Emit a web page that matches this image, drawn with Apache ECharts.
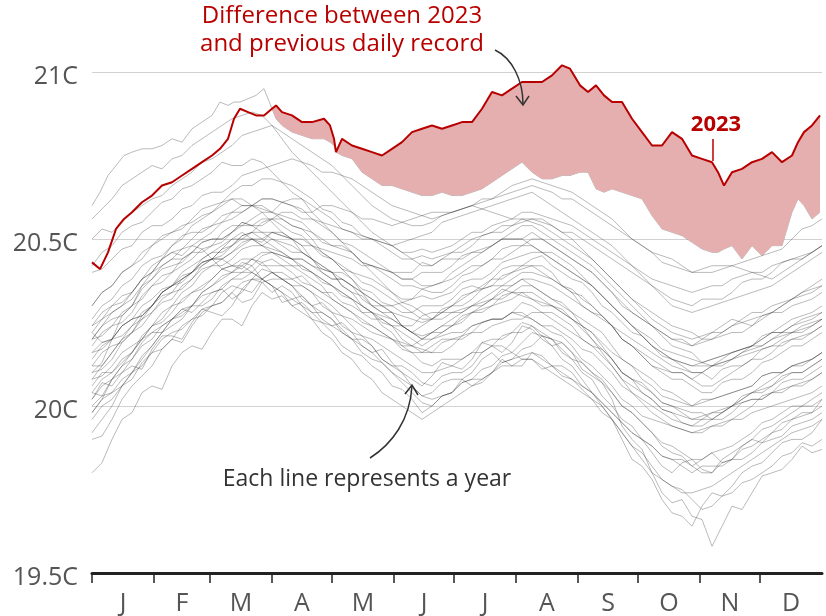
<!DOCTYPE html>
<html><head><meta charset="utf-8">
<script src="https://cdn.jsdelivr.net/npm/echarts@6/dist/echarts.min.js"></script>
<style>html,body{margin:0;padding:0;background:#fff}#c{width:826px;height:616px}</style>
</head><body><div id="c"></div>
<script>
// ---- tick labels / categories ----
const monthLabels = ['J','F','M','A','M','J','J','A','S','O','N','D'];
const monthStarts = [0,31,59,90,120,151,181,212,243,273,304,334];
const monthMids = [15.5,45,74.5,105,135.5,166,196.5,227.5,258,288.5,319,349.5];
const yTickLabels = ['19.5C','20C','20.5C','21C'];

// ---- grey year lines (read every 5 days: day 0,5,...,365) ----
const gDays = [0,5,10,15,20,25,30,35,40,45,50,55,60,65,70,75,80,85,90,95,100,105,110,115,120,125,130,135,140,145,150,155,160,165,170,175,180,185,190,195,200,205,210,215,220,225,230,235,240,245,250,255,260,265,270,275,280,285,290,295,300,305,310,315,320,325,330,335,340,345,350,355,360,365];
const y1982 = [20.02,20.07,20.06,20.10,20.12,20.11,20.17,20.21,20.21,20.20, 20.25,20.29,20.28,20.27,20.30,20.35,20.34,20.38,20.36,20.31, 20.32,20.33,20.30,20.26,20.24,20.25,20.22,20.18,20.16,20.17, 20.13,20.10,20.08,20.06,20.09,20.13,20.12,20.11,20.14,20.19, 20.18,20.16,20.19,20.24,20.23,20.20,20.18,20.19,20.16,20.11, 20.09,20.07,20.02,19.94,19.90,19.87,19.80,19.74,19.71,19.72, 19.67,19.66,19.58,19.64,19.70,19.69,19.74,19.79,19.80,19.81, 19.84,19.88,19.86,19.87];
const y1983 = [19.80,19.83,19.90,19.96,19.98,20.04,20.06,20.05,20.12,20.16, 20.18,20.17,20.22,20.26,20.26,20.24,20.30,20.34,20.32,20.33, 20.30,20.28,20.26,20.25,20.22,20.18,20.16,20.15,20.12,20.10, 20.06,20.05,20.02,19.98,20.00,20.03,20.04,20.08,20.06,20.07, 20.10,20.14,20.12,20.12,20.16,20.15,20.12,20.09,20.08,20.05, 20.02,19.98,19.96,19.92,19.88,19.86,19.82,19.78,19.76,19.75, 19.72,19.69,19.70,19.73,19.74,19.77,19.78,19.80,19.82,19.85, 19.86,19.89,19.88,19.90];
const y1984 = [20.10,20.13,20.20,20.27,20.30,20.36,20.40,20.44,20.46,20.45, 20.48,20.47,20.44,20.41,20.40,20.43,20.42,20.38,20.36,20.34, 20.30,20.31,20.28,20.25,20.24,20.22,20.20,20.16,20.14,20.13, 20.10,20.07,20.04,20.01,20.00,20.03,20.04,20.07,20.08,20.11, 20.12,20.15,20.16,20.14,20.14,20.11,20.12,20.10,20.08,20.06, 20.04,20.01,19.98,19.95,19.92,19.90,19.86,19.82,19.80,19.83, 19.84,19.81,19.80,19.84,19.86,19.88,19.90,19.93,19.94,19.96, 19.98,20.00,20.00,20.02];
const y1985 = [19.90,19.91,19.96,20.02,20.06,20.09,20.12,20.17,20.20,20.19, 20.24,20.28,20.30,20.31,20.34,20.31,20.32,20.37,20.38,20.38, 20.36,20.32,20.30,20.31,20.28,20.24,20.22,20.21,20.18,20.14, 20.12,20.10,20.06,20.03,20.04,20.07,20.08,20.08,20.10,20.14, 20.16,20.13,20.14,20.17,20.18,20.21,20.20,20.16,20.14,20.13, 20.10,20.08,20.04,20.00,19.98,19.95,19.92,19.88,19.86,19.85, 19.82,19.84,19.86,19.83,19.84,19.88,19.90,19.89,19.92,19.95, 19.96,19.98,19.98,20.02];
const y1986 = [20.04,20.03,20.08,20.12,20.14,20.19,20.22,20.22,20.26,20.29, 20.28,20.31,20.34,20.35,20.32,20.34,20.38,20.37,20.34,20.36, 20.34,20.30,20.28,20.28,20.26,20.22,20.20,20.20,20.18,20.14, 20.12,20.12,20.10,20.07,20.06,20.09,20.10,20.10,20.12,20.16, 20.18,20.18,20.16,20.19,20.22,20.21,20.18,20.14,20.12,20.08, 20.04,20.00,19.96,19.90,19.84,19.82,19.78,19.72,19.68,19.67, 19.64,19.70,19.74,19.73,19.76,19.80,19.82,19.83,19.86,19.89, 19.90,19.90,19.92,19.96];
const y1987 = [19.96,20.00,20.02,20.06,20.08,20.13,20.16,20.17,20.20,20.24, 20.26,20.27,20.30,20.34,20.36,20.35,20.38,20.41,20.40,20.38, 20.38,20.39,20.36,20.34,20.34,20.31,20.30,20.28,20.28,20.27, 20.26,20.24,20.24,20.27,20.28,20.28,20.30,20.33,20.34,20.35, 20.38,20.41,20.42,20.42,20.44,20.45,20.42,20.40,20.38,20.37, 20.34,20.30,20.28,20.25,20.22,20.21,20.18,20.15,20.14,20.12, 20.10,20.10,20.08,20.11,20.12,20.12,20.14,20.17,20.18,20.18, 20.20,20.21,20.22,20.24];
const y1988 = [20.20,20.24,20.26,20.27,20.30,20.35,20.38,20.41,20.42,20.43, 20.46,20.49,20.50,20.50,20.52,20.55,20.54,20.52,20.52,20.51, 20.50,20.46,20.44,20.41,20.40,20.36,20.34,20.30,20.28,20.24, 20.22,20.18,20.16,20.13,20.12,20.14,20.14,20.14,20.16,20.19, 20.20,20.20,20.22,20.25,20.24,20.21,20.20,20.17,20.14,20.10, 20.08,20.03,20.00,19.96,19.94,19.90,19.88,19.85,19.84,19.84, 19.82,19.80,19.80,19.83,19.84,19.84,19.86,19.89,19.90,19.91, 19.94,19.95,19.96,19.98];
const y1989 = [19.98,20.02,20.04,20.06,20.10,20.15,20.18,20.22,20.24,20.26, 20.30,20.30,20.32,20.36,20.38,20.38,20.40,20.43,20.44,20.42, 20.42,20.42,20.40,20.37,20.36,20.34,20.32,20.28,20.26,20.26, 20.24,20.20,20.18,20.16,20.16,20.19,20.20,20.20,20.22,20.25, 20.26,20.26,20.28,20.31,20.30,20.28,20.28,20.26,20.24,20.20, 20.18,20.17,20.14,20.10,20.08,20.04,20.02,19.99,19.98,19.95, 19.94,19.96,19.96,19.96,19.98,20.01,20.02,20.02,20.04,20.07, 20.08,20.08,20.10,20.12];
const y1990 = [20.12,20.12,20.16,20.20,20.22,20.26,20.28,20.31,20.32,20.36, 20.38,20.41,20.42,20.42,20.44,20.47,20.48,20.48,20.50,20.48, 20.46,20.46,20.44,20.40,20.38,20.38,20.36,20.32,20.30,20.30, 20.28,20.24,20.22,20.20,20.22,20.24,20.24,20.25,20.28,20.29, 20.30,20.33,20.34,20.34,20.32,20.30,20.30,20.29,20.26,20.24, 20.22,20.18,20.14,20.10,20.08,20.07,20.04,20.01,20.00,19.99, 19.98,19.98,19.96,19.98,20.00,20.03,20.04,20.04,20.06,20.09, 20.10,20.10,20.12,20.14];
const y1991 = [20.14,20.18,20.20,20.21,20.24,20.28,20.30,20.33,20.34,20.38, 20.40,20.42,20.44,20.44,20.46,20.49,20.50,20.50,20.48,20.46, 20.44,20.44,20.42,20.40,20.38,20.38,20.36,20.34,20.32,20.30, 20.30,20.28,20.28,20.30,20.30,20.30,20.32,20.35,20.36,20.35, 20.36,20.39,20.40,20.42,20.42,20.42,20.40,20.36,20.34,20.33, 20.30,20.27,20.24,20.20,20.18,20.15,20.12,20.10,20.08,20.08, 20.06,20.04,20.04,20.07,20.08,20.08,20.10,20.13,20.14,20.16, 20.18,20.18,20.20,20.22];
const y1992 = [20.16,20.19,20.20,20.24,20.26,20.30,20.32,20.35,20.36,20.38, 20.40,20.43,20.44,20.44,20.42,20.41,20.44,20.43,20.40,20.38, 20.36,20.33,20.30,20.28,20.26,20.23,20.20,20.18,20.16,20.13, 20.10,20.08,20.06,20.03,20.02,20.03,20.04,20.07,20.08,20.08, 20.10,20.13,20.14,20.15,20.16,20.14,20.12,20.12,20.10,20.06, 20.04,20.01,19.98,19.95,19.92,19.90,19.88,19.85,19.84,19.82, 19.80,19.82,19.82,19.82,19.84,19.87,19.88,19.90,19.92,19.93, 19.96,19.97,19.98,20.00];
const y1993 = [20.00,20.03,20.04,20.08,20.10,20.12,20.16,20.20,20.22,20.23, 20.26,20.29,20.30,20.31,20.34,20.37,20.38,20.38,20.40,20.40, 20.38,20.36,20.34,20.32,20.30,20.27,20.26,20.24,20.22,20.21, 20.20,20.17,20.16,20.16,20.18,20.20,20.20,20.21,20.24,20.25, 20.26,20.26,20.28,20.28,20.26,20.24,20.24,20.22,20.20,20.17, 20.16,20.13,20.10,20.06,20.04,20.01,19.98,19.96,19.94,19.93, 19.92,19.93,19.94,19.94,19.96,19.98,20.00,20.03,20.04,20.04, 20.06,20.06,20.08,20.10];
const y1994 = [20.06,20.10,20.10,20.13,20.16,20.20,20.22,20.24,20.26,20.29, 20.30,20.34,20.36,20.39,20.40,20.40,20.42,20.45,20.46,20.45, 20.44,20.44,20.42,20.41,20.40,20.36,20.34,20.33,20.30,20.28, 20.28,20.27,20.26,20.25,20.26,20.29,20.30,20.30,20.32,20.35, 20.36,20.36,20.38,20.40,20.40,20.39,20.38,20.36,20.34,20.30, 20.28,20.27,20.24,20.20,20.18,20.15,20.12,20.11,20.10,20.10, 20.08,20.06,20.06,20.08,20.10,20.12,20.14,20.14,20.16,20.19, 20.20,20.20,20.22,20.24];
const y1995 = [20.22,20.26,20.28,20.30,20.32,20.36,20.38,20.42,20.44,20.44, 20.46,20.49,20.50,20.50,20.52,20.54,20.54,20.56,20.56,20.54, 20.52,20.51,20.48,20.45,20.44,20.42,20.40,20.37,20.36,20.34, 20.32,20.30,20.28,20.26,20.26,20.28,20.28,20.28,20.30,20.31, 20.32,20.32,20.34,20.36,20.36,20.34,20.32,20.31,20.28,20.26, 20.24,20.22,20.18,20.14,20.12,20.10,20.08,20.05,20.04,20.02, 20.00,20.02,20.02,20.03,20.04,20.05,20.06,20.09,20.10,20.10, 20.12,20.13,20.14,20.16];
const y1996 = [20.08,20.09,20.12,20.16,20.18,20.20,20.24,20.28,20.30,20.31, 20.34,20.36,20.38,20.41,20.42,20.42,20.44,20.42,20.42,20.42, 20.40,20.37,20.36,20.34,20.32,20.30,20.28,20.25,20.24,20.22, 20.20,20.19,20.18,20.17,20.16,20.16,20.18,20.21,20.22,20.22, 20.24,20.25,20.26,20.26,20.28,20.28,20.26,20.24,20.22,20.20, 20.18,20.15,20.12,20.08,20.06,20.04,20.02,19.99,19.98,19.97, 19.96,19.97,19.98,19.98,20.00,20.02,20.04,20.05,20.06,20.08, 20.10,20.10,20.12,20.14];
const y1997 = [20.10,20.11,20.14,20.19,20.22,20.24,20.28,20.32,20.34,20.35, 20.38,20.42,20.44,20.45,20.48,20.50,20.50,20.49,20.52,20.52, 20.50,20.48,20.48,20.47,20.46,20.45,20.44,20.42,20.42,20.41, 20.40,20.40,20.40,20.43,20.42,20.44,20.46,20.46,20.48,20.51, 20.52,20.52,20.54,20.56,20.56,20.55,20.54,20.52,20.52,20.50, 20.48,20.46,20.44,20.42,20.40,20.38,20.36,20.34,20.32,20.31, 20.30,20.32,20.32,20.32,20.34,20.37,20.38,20.38,20.40,20.43, 20.44,20.44,20.46,20.48];
const y1998 = [20.42,20.46,20.48,20.52,20.54,20.55,20.58,20.61,20.62,20.65, 20.66,20.68,20.70,20.73,20.72,20.72,20.74,20.73,20.70,20.67, 20.64,20.62,20.58,20.55,20.52,20.49,20.46,20.43,20.40,20.37, 20.34,20.31,20.30,20.28,20.26,20.26,20.28,20.29,20.30,20.30, 20.32,20.35,20.34,20.33,20.32,20.31,20.30,20.28,20.26,20.23, 20.20,20.17,20.14,20.10,20.08,20.06,20.04,20.01,20.00,19.98, 19.96,19.96,19.98,19.99,20.00,20.01,20.02,20.02,20.04,20.05, 20.06,20.07,20.08,20.10];
const y1999 = [20.02,20.06,20.08,20.10,20.14,20.18,20.20,20.24,20.26,20.27, 20.30,20.33,20.34,20.35,20.38,20.40,20.40,20.38,20.40,20.38, 20.36,20.36,20.34,20.30,20.28,20.27,20.24,20.21,20.20,20.18, 20.16,20.14,20.12,20.10,20.10,20.11,20.12,20.14,20.16,20.16, 20.18,20.21,20.22,20.22,20.24,20.22,20.20,20.19,20.16,20.13, 20.10,20.07,20.04,20.00,19.98,19.95,19.92,19.89,19.88,19.86, 19.84,19.84,19.86,19.87,19.88,19.90,19.92,19.95,19.96,19.98, 20.00,20.00,20.02,20.04];
const y2000 = [20.04,20.08,20.10,20.14,20.16,20.21,20.24,20.25,20.28,20.32, 20.34,20.35,20.38,20.41,20.42,20.44,20.44,20.46,20.46,20.45, 20.44,20.41,20.40,20.38,20.36,20.33,20.32,20.30,20.28,20.25, 20.24,20.24,20.22,20.21,20.22,20.22,20.24,20.27,20.28,20.28, 20.30,20.31,20.32,20.34,20.34,20.32,20.30,20.28,20.26,20.24, 20.22,20.19,20.16,20.14,20.12,20.08,20.06,20.03,20.02,20.01, 20.00,20.01,20.02,20.03,20.04,20.05,20.06,20.09,20.10,20.10, 20.12,20.12,20.14,20.16];
const y2001 = [20.12,20.16,20.18,20.19,20.22,20.27,20.30,20.34,20.36,20.37, 20.40,20.44,20.46,20.46,20.48,20.51,20.52,20.50,20.52,20.51, 20.50,20.50,20.48,20.46,20.44,20.41,20.40,20.39,20.38,20.36, 20.34,20.32,20.32,20.33,20.32,20.33,20.34,20.37,20.38,20.38, 20.40,20.43,20.44,20.45,20.46,20.46,20.44,20.42,20.40,20.38, 20.36,20.33,20.30,20.27,20.24,20.22,20.20,20.17,20.16,20.15, 20.14,20.13,20.14,20.15,20.16,20.17,20.18,20.21,20.22,20.22, 20.24,20.25,20.26,20.28];
const y2002 = [20.18,20.22,20.24,20.25,20.28,20.33,20.36,20.37,20.40,20.44, 20.46,20.46,20.48,20.52,20.54,20.54,20.56,20.58,20.58,20.57, 20.56,20.55,20.52,20.49,20.48,20.47,20.46,20.43,20.42,20.41, 20.40,20.38,20.38,20.40,20.40,20.40,20.42,20.45,20.46,20.46, 20.48,20.50,20.50,20.50,20.52,20.50,20.48,20.46,20.44,20.42, 20.40,20.37,20.34,20.30,20.28,20.26,20.24,20.22,20.20,20.20, 20.18,20.19,20.20,20.21,20.22,20.22,20.24,20.27,20.28,20.28, 20.30,20.31,20.32,20.34];
const y2003 = [20.20,20.24,20.28,20.30,20.34,20.38,20.42,20.44,20.48,20.50, 20.54,20.56,20.58,20.60,20.62,20.62,20.60,20.58,20.55,20.52, 20.50,20.48,20.44,20.42,20.40,20.38,20.36,20.34,20.30,20.28, 20.26,20.24,20.22,20.24,20.26,20.28,20.30,20.32,20.34,20.36, 20.38,20.38,20.40,20.41,20.42,20.40,20.38,20.36,20.35,20.32, 20.30,20.27,20.24,20.20,20.18,20.16,20.14,20.12,20.10,20.10, 20.08,20.10,20.12,20.13,20.14,20.16,20.17,20.18,20.20,20.22, 20.22,20.24,20.25,20.26];
const y2004 = [20.08,20.12,20.16,20.20,20.24,20.26,20.30,20.34,20.36,20.40, 20.42,20.44,20.46,20.48,20.50,20.52,20.50,20.48,20.47,20.46, 20.44,20.42,20.40,20.38,20.36,20.34,20.32,20.30,20.28,20.26, 20.24,20.22,20.20,20.18,20.20,20.22,20.24,20.26,20.28,20.30, 20.32,20.34,20.36,20.38,20.38,20.37,20.36,20.34,20.32,20.30, 20.28,20.26,20.24,20.22,20.20,20.18,20.16,20.14,20.12,20.11, 20.10,20.10,20.12,20.14,20.16,20.17,20.18,20.20,20.22,20.22, 20.24,20.26,20.27,20.28];
const y2005 = [20.24,20.26,20.30,20.33,20.34,20.38,20.40,20.44,20.46,20.47, 20.50,20.53,20.54,20.55,20.58,20.60,20.60,20.62,20.62,20.61, 20.60,20.59,20.56,20.54,20.52,20.49,20.48,20.46,20.44,20.42, 20.40,20.38,20.38,20.36,20.36,20.37,20.38,20.40,20.42,20.42, 20.44,20.44,20.46,20.48,20.48,20.46,20.46,20.44,20.42,20.39, 20.36,20.33,20.30,20.27,20.24,20.21,20.18,20.16,20.14,20.13, 20.12,20.12,20.12,20.12,20.14,20.15,20.16,20.17,20.18,20.20, 20.22,20.22,20.24,20.26];
const y2008 = [19.92,19.96,20.00,20.06,20.10,20.14,20.18,20.22,20.26,20.28, 20.30,20.34,20.36,20.38,20.40,20.42,20.40,20.38,20.36,20.34, 20.32,20.30,20.26,20.22,20.20,20.16,20.14,20.10,20.08,20.04, 20.02,20.00,19.98,19.96,19.98,20.00,20.02,20.04,20.06,20.08, 20.10,20.12,20.12,20.14,20.14,20.12,20.10,20.08,20.06,20.04, 20.02,20.00,19.96,19.92,19.88,19.84,19.80,19.78,19.76,19.74, 19.74,19.75,19.76,19.78,19.80,19.82,19.84,19.86,19.88,19.90, 19.92,19.93,19.94,19.96];
const y2010 = [20.26,20.30,20.32,20.36,20.38,20.42,20.44,20.45,20.48,20.51, 20.52,20.52,20.54,20.57,20.58,20.58,20.60,20.60,20.58,20.56, 20.54,20.53,20.50,20.46,20.44,20.41,20.38,20.34,20.32,20.30, 20.28,20.24,20.22,20.20,20.20,20.21,20.22,20.22,20.24,20.25, 20.26,20.26,20.28,20.27,20.26,20.24,20.22,20.21,20.18,20.14, 20.12,20.09,20.06,20.02,20.00,19.97,19.96,19.95,19.94,19.93, 19.92,19.92,19.94,19.95,19.96,19.96,19.98,19.99,20.00,20.01, 20.02,20.03,20.04,20.06];
const y2012 = [19.98,20.02,20.08,20.12,20.16,20.20,20.24,20.26,20.30,20.34, 20.36,20.40,20.42,20.44,20.46,20.48,20.50,20.48,20.46,20.44, 20.42,20.40,20.38,20.36,20.32,20.30,20.28,20.26,20.24,20.22, 20.20,20.18,20.18,20.20,20.22,20.24,20.26,20.28,20.30,20.32, 20.34,20.36,20.36,20.38,20.36,20.34,20.32,20.30,20.28,20.24, 20.20,20.16,20.12,20.08,20.04,20.02,20.00,19.98,19.96,19.95, 19.94,19.94,19.96,19.98,20.00,20.02,20.04,20.06,20.08,20.10, 20.12,20.13,20.14,20.16];
const y2014 = [20.16,20.17,20.20,20.24,20.26,20.27,20.30,20.34,20.36,20.39, 20.40,20.43,20.44,20.47,20.48,20.51,20.52,20.55,20.56,20.58, 20.58,20.56,20.56,20.55,20.54,20.53,20.52,20.50,20.50,20.49, 20.48,20.46,20.46,20.47,20.46,20.47,20.48,20.50,20.52,20.52, 20.54,20.55,20.56,20.58,20.58,20.57,20.56,20.55,20.54,20.52, 20.50,20.48,20.46,20.44,20.42,20.40,20.38,20.37,20.36,20.35, 20.34,20.35,20.36,20.36,20.38,20.39,20.40,20.40,20.42,20.43, 20.44,20.45,20.46,20.48];
const y2015 = [20.24,20.28,20.30,20.31,20.34,20.38,20.40,20.42,20.44,20.47, 20.48,20.50,20.52,20.55,20.56,20.58,20.60,20.62,20.62,20.61, 20.60,20.58,20.58,20.60,20.60,20.59,20.58,20.56,20.56,20.55, 20.54,20.55,20.56,20.57,20.58,20.58,20.58,20.59,20.60,20.62, 20.62,20.63,20.64,20.65,20.66,20.65,20.64,20.62,20.62,20.60, 20.58,20.56,20.54,20.52,20.50,20.48,20.46,20.43,20.42,20.41, 20.40,20.41,20.42,20.42,20.42,20.43,20.44,20.45,20.46,20.47, 20.50,20.53,20.54,20.56];
const y2016 = [20.56,20.59,20.62,20.66,20.68,20.70,20.72,20.71,20.74,20.75, 20.78,20.80,20.82,20.84,20.86,20.87,20.88,20.87,20.84,20.80, 20.76,20.73,20.70,20.67,20.64,20.61,20.58,20.55,20.52,20.50, 20.48,20.46,20.44,20.42,20.42,20.44,20.44,20.44,20.46,20.47, 20.48,20.50,20.50,20.50,20.48,20.46,20.44,20.42,20.40,20.38, 20.36,20.33,20.30,20.27,20.24,20.21,20.18,20.16,20.14,20.13, 20.12,20.13,20.14,20.15,20.16,20.17,20.18,20.18,20.20,20.21, 20.22,20.23,20.24,20.26];
const y2017 = [20.30,20.34,20.36,20.40,20.42,20.44,20.48,20.51,20.52,20.53, 20.56,20.59,20.60,20.61,20.64,20.66,20.66,20.68,20.68,20.67, 20.66,20.64,20.62,20.59,20.58,20.55,20.54,20.51,20.50,20.48, 20.46,20.44,20.44,20.45,20.44,20.45,20.46,20.48,20.50,20.51, 20.52,20.54,20.54,20.55,20.56,20.56,20.54,20.52,20.50,20.47, 20.44,20.41,20.38,20.35,20.32,20.30,20.28,20.26,20.24,20.23, 20.22,20.20,20.20,20.22,20.24,20.26,20.28,20.28,20.30,20.31, 20.32,20.33,20.34,20.36];
const y2018 = [20.20,20.21,20.24,20.28,20.30,20.32,20.36,20.39,20.40,20.42, 20.44,20.47,20.48,20.49,20.52,20.55,20.54,20.54,20.56,20.56, 20.54,20.53,20.52,20.50,20.48,20.48,20.46,20.43,20.42,20.40, 20.38,20.36,20.36,20.35,20.34,20.34,20.36,20.39,20.40,20.42, 20.44,20.47,20.48,20.48,20.50,20.50,20.48,20.46,20.44,20.42, 20.40,20.37,20.34,20.31,20.28,20.26,20.24,20.22,20.20,20.19, 20.18,20.20,20.22,20.22,20.24,20.25,20.26,20.27,20.28,20.30, 20.32,20.34,20.36,20.38];
const y2019 = [20.40,20.41,20.44,20.47,20.48,20.52,20.54,20.54,20.56,20.59, 20.60,20.63,20.64,20.64,20.66,20.69,20.70,20.71,20.72,20.73, 20.74,20.73,20.72,20.70,20.70,20.69,20.68,20.66,20.64,20.62, 20.60,20.59,20.58,20.57,20.56,20.57,20.58,20.59,20.60,20.61, 20.62,20.64,20.66,20.67,20.68,20.67,20.66,20.65,20.64,20.62, 20.60,20.58,20.56,20.53,20.50,20.48,20.46,20.45,20.44,20.42, 20.40,20.40,20.40,20.41,20.42,20.41,20.40,20.39,20.38,20.40, 20.42,20.44,20.46,20.48];
const y2020 = [20.50,20.53,20.52,20.55,20.58,20.60,20.62,20.63,20.66,20.68, 20.70,20.73,20.74,20.76,20.78,20.81,20.82,20.83,20.84,20.82, 20.80,20.78,20.76,20.74,20.72,20.69,20.66,20.63,20.60,20.58, 20.56,20.55,20.54,20.54,20.55,20.57,20.58,20.59,20.60,20.59, 20.58,20.57,20.56,20.56,20.55,20.54,20.52,20.50,20.48,20.46, 20.44,20.41,20.38,20.35,20.32,20.29,20.26,20.24,20.22,20.21, 20.20,20.21,20.22,20.24,20.26,20.25,20.24,20.26,20.28,20.30, 20.32,20.34,20.35,20.36];
const y2021 = [20.22,20.19,20.20,20.24,20.26,20.27,20.30,20.34,20.36,20.38, 20.40,20.43,20.44,20.47,20.50,20.50,20.52,20.52,20.50,20.49, 20.48,20.46,20.44,20.42,20.40,20.40,20.38,20.35,20.34,20.31, 20.30,20.31,20.32,20.35,20.36,20.37,20.40,20.42,20.44,20.46, 20.48,20.50,20.52,20.54,20.54,20.52,20.50,20.48,20.46,20.44, 20.42,20.39,20.36,20.33,20.30,20.27,20.24,20.21,20.18,20.17, 20.16,20.13,20.12,20.13,20.14,20.16,20.18,20.20,20.22,20.24, 20.26,20.27,20.28,20.30];
const y2022 = [20.30,20.34,20.36,20.40,20.42,20.46,20.48,20.50,20.52,20.54, 20.55,20.57,20.58,20.61,20.62,20.60,20.60,20.59,20.58,20.61, 20.62,20.62,20.60,20.58,20.56,20.53,20.52,20.51,20.50,20.49, 20.48,20.49,20.50,20.51,20.52,20.55,20.56,20.57,20.58,20.59, 20.60,20.61,20.62,20.63,20.64,20.62,20.60,20.58,20.56,20.54, 20.52,20.50,20.48,20.45,20.42,20.39,20.36,20.33,20.30,20.29, 20.28,20.29,20.30,20.31,20.32,20.33,20.34,20.35,20.36,20.38, 20.40,20.42,20.44,20.46];
const greyYears = [y1982,y1983,y1984,y1985,y1986,y1987,y1988,y1989,y1990,y1991,y1992,y1993,y1994,y1995,y1996,y1997,y1998,y1999,y2000,y2001,y2002,y2003,y2004,y2005,y2008,y2010,y2012,y2014,y2015,y2016,y2017,y2018,y2019,y2020,y2021,y2022];

// ---- 2023 and previous daily record (same day grid) ----
const days2023 = [0,4,8,12,16,20,25,30,35,40,45,50,55,60,64,68,71,74,78,82,86,90,92,95,100,105,110,116,119,121,122,125,130,135,140,145,150,155,160,165,170,175,180,185,190,195,200,205,210,215,220,225,230,235,239,244,248,252,256,260,265,270,275,280,285,290,295,300,305,310,313,316,320,325,330,335,340,345,350,353,356,360,364];
const temp2023 = [20.43,20.41,20.46,20.53,20.56,20.58,20.61,20.63,20.66,20.67,20.69,20.71,20.73,20.75,20.77,20.80,20.86,20.89,20.88,20.87,20.87,20.89,20.90,20.88,20.87,20.85,20.85,20.86,20.84,20.80,20.76,20.80,20.78,20.77,20.76,20.75,20.77,20.79,20.82,20.83,20.84,20.83,20.84,20.85,20.85,20.89,20.94,20.93,20.95,20.97,20.97,20.97,20.99,21.02,21.01,20.96,20.94,20.96,20.93,20.91,20.91,20.86,20.82,20.78,20.78,20.82,20.80,20.75,20.74,20.73,20.70,20.66,20.70,20.71,20.73,20.74,20.76,20.73,20.75,20.79,20.82,20.84,20.87];
const prevRecord = [20.60,20.64,20.69,20.72,20.75,20.76,20.77,20.77,20.78,20.80,20.79,20.83,20.85,20.87,20.91,20.90,20.91,20.91,20.92,20.93,20.95,20.89,20.86,20.84,20.82,20.81,20.80,20.80,20.79,20.78,20.76,20.75,20.74,20.70,20.68,20.66,20.66,20.65,20.64,20.63,20.63,20.64,20.63,20.63,20.64,20.65,20.67,20.69,20.71,20.73,20.70,20.68,20.68,20.69,20.69,20.70,20.70,20.65,20.64,20.65,20.64,20.63,20.62,20.57,20.53,20.52,20.51,20.49,20.47,20.46,20.46,20.47,20.48,20.44,20.48,20.45,20.48,20.48,20.58,20.62,20.60,20.56,20.58];

const FONT = '"Open Sans", "Noto Sans", sans-serif';
const greyStyle = {color:'rgba(40,40,40,0.32)', width:1};
const series = [];
greyYears.forEach(function(arr){
  series.push({type:'line', data: gDays.map(function(d,i){return [d, arr[i]];}), symbol:'none', lineStyle:greyStyle, silent:true, z:1, animation:false});
});
series.push({type:'line', data: days2023.map(function(d,i){return [d, prevRecord[i]];}), symbol:'none', lineStyle:greyStyle, silent:true, z:1, animation:false});
// shaded gap between 2023 and the previous record, drawn through the axis scales
series.push({
  type:'custom', silent:true, z:2, clip:false, animation:false,
  data:[[180, 20.5]],
  renderItem:function(params, api){
    var pts = [];
    for (var i = 0; i < days2023.length; i++) pts.push(api.coord([days2023[i], temp2023[i]]));
    for (var j = days2023.length - 1; j >= 0; j--) pts.push(api.coord([days2023[j], Math.min(prevRecord[j], temp2023[j])]));
    return {type:'polygon', shape:{points:pts}, style:{fill:'#e6afaf', stroke:null}};
  }
});
series.push({type:'line', data: days2023.map(function(d,i){return [d, temp2023[i]];}), symbol:'none', lineStyle:{color:'#b80000', width:2}, silent:true, z:3, animation:false, clip:false});

const chart = echarts.init(document.getElementById('c'), null, {renderer:'canvas'});
chart.setOption({
  animation:false,
  backgroundColor:'#fff',
  grid:{left:92, right:4, top:72, bottom:43},
  xAxis:{
    type:'value', min:0, max:365,
    axisLine:{show:true, onZero:false, lineStyle:{color:'#222', width:3}},
    axisTick:{show:true, customValues:monthStarts, length:10, lineStyle:{color:'#222', width:1.5}},
    axisLabel:{customValues:monthMids, fontSize:25, color:'#555', fontFamily:FONT, margin:18,
      formatter:function(v){var k=0,b=1e9;monthMids.forEach(function(m,i){if(Math.abs(m-v)<b){b=Math.abs(m-v);k=i;}});return monthLabels[k];}},
    splitLine:{show:false}
  },
  yAxis:{
    type:'value', min:19.5, max:21, interval:0.5,
    axisLine:{show:false}, axisTick:{show:false},
    axisLabel:{fontSize:25, color:'#555', fontFamily:FONT, margin:14, verticalAlign:'top', lineHeight:10,
      formatter:function(v){return yTickLabels[Math.round((v-19.5)/0.5)];}},
    splitLine:{show:true, showMinLine:false, lineStyle:{color:'#d2d2d2', width:1}}
  },
  series: series,
  graphic:[
    {type:'text', x:342, y:16, z:100, style:{text:'Difference between 2023', fill:'#b80000', font:'24px '+FONT, textAlign:'center', verticalAlign:'middle'}},
    {type:'text', x:342, y:44, z:100, style:{text:'and previous daily record', fill:'#b80000', font:'24px '+FONT, textAlign:'center', verticalAlign:'middle'}},
    {type:'bezierCurve', z:100, shape:{x1:495,y1:50,cpx1:512,cpy1:58,cpx2:523,cpy2:80,x2:523,y2:104}, style:{stroke:'#333', lineWidth:1.5, fill:null}},
    {type:'polyline', z:100, shape:{points:[[516,96],[523,105],[529,96]]}, style:{stroke:'#333', lineWidth:1.5, fill:null}},
    {type:'text', x:716, y:125, z:100, style:{text:'2023', fill:'#b80000', font:'bold 22px '+FONT, textAlign:'center', verticalAlign:'middle'}},
    {type:'line', z:100, shape:{x1:713,y1:139,x2:713,y2:161}, style:{stroke:'#b80000', lineWidth:1.5}},
    {type:'text', x:367, y:479, z:100, style:{text:'Each line represents a year', fill:'#333', font:'23px '+FONT, textAlign:'center', verticalAlign:'middle'}},
    {type:'bezierCurve', z:100, shape:{x1:370,y1:458,cpx1:392,cpy1:444,cpx2:410,cpy2:420,x2:412,y2:386}, style:{stroke:'#333', lineWidth:1.5, fill:null}},
    {type:'polyline', z:100, shape:{points:[[405,394],[412,385],[418,395]]}, style:{stroke:'#333', lineWidth:1.5, fill:null}}
  ]
});
</script></body></html>
